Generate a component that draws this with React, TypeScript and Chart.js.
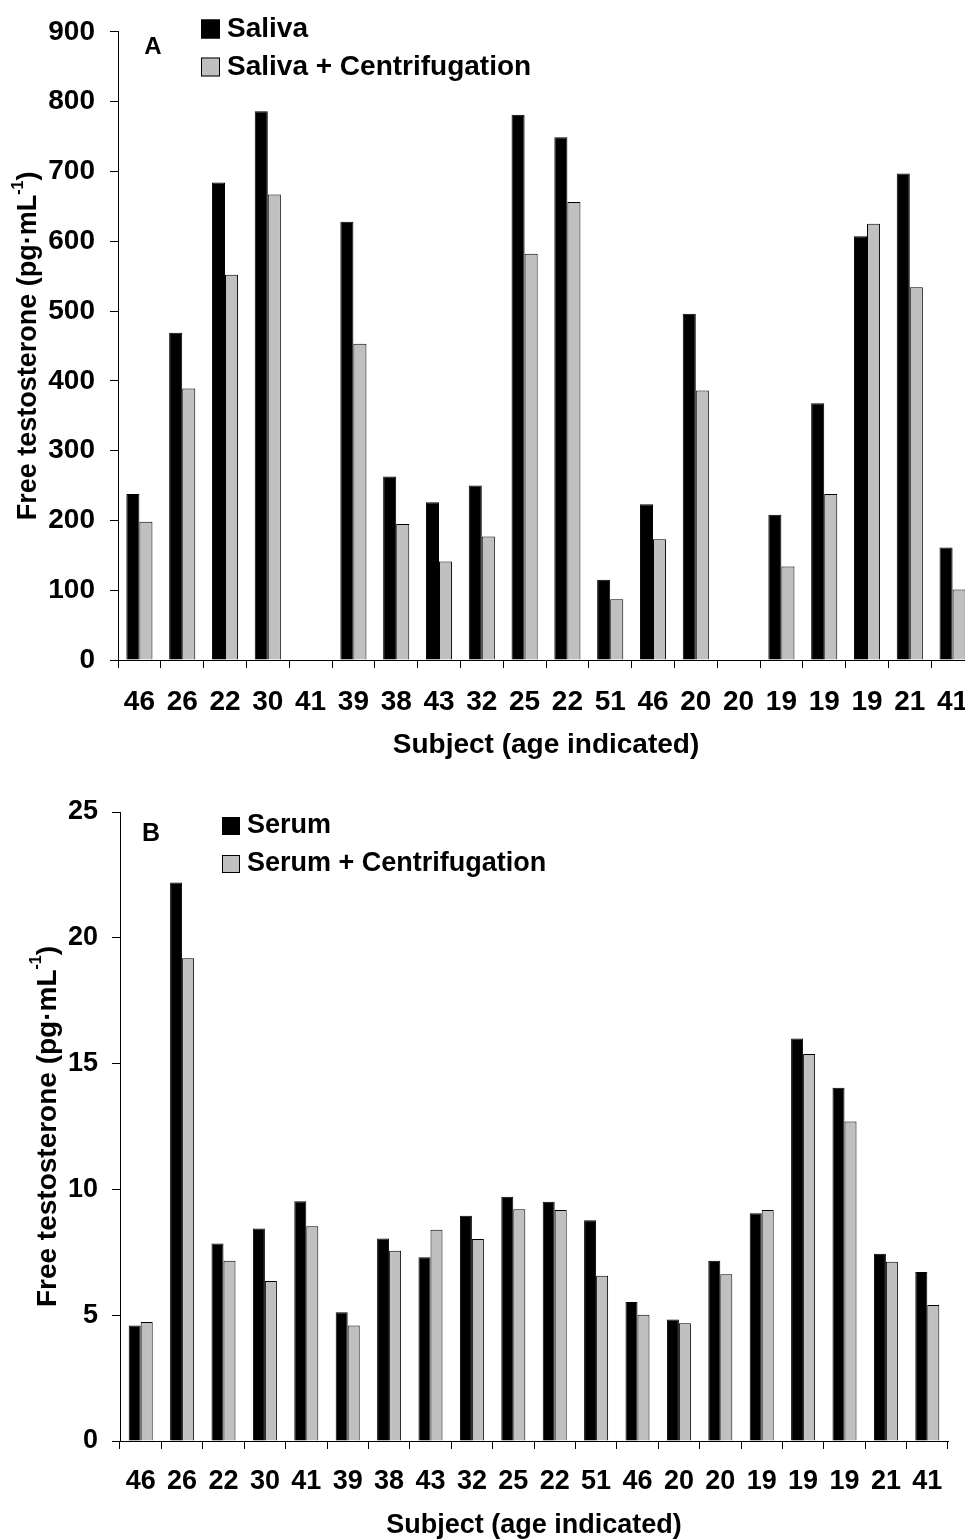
import React, { useEffect, useRef } from "react";
import { Chart, registerables } from "chart.js";

Chart.register(...registerables);

const AGES = ["46", "26", "22", "30", "41", "39", "38", "43", "32", "25", "22", "51", "46", "20", "20", "19", "19", "19", "21", "41"];

const SALIVA = [238, 469, 684, 786, null, 628, 263, 226, 250, 781, 749, 115, 223, 496, null, 208, 368, 607, 697, 161];
const SALIVA_CENT = [198, 389, 552, 667, null, 453, 195, 141, 177, 582, 656, 87, 173, 386, null, 134, 238, 625, 534, 101];

const SERUM = [4.59, 22.2, 7.85, 8.45, 9.53, 5.12, 8.05, 7.3, 8.95, 9.71, 9.51, 8.77, 5.52, 4.83, 7.16, 9.05, 16.0, 14.04, 7.44, 6.72];
const SERUM_CENT = [4.73, 19.19, 7.16, 6.36, 8.54, 4.59, 7.56, 8.4, 8.03, 9.21, 9.18, 6.57, 5.02, 4.68, 6.63, 9.18, 15.38, 12.7, 7.12, 5.41];

const X_TITLE = "Subject (age indicated)";
const Y_TITLE_MAIN = "Free testosterone (pg·mL";
const Y_TITLE_SUP = "-1";
const Y_TITLE_END = ")";

const FONT = "'Liberation Sans', Arial, Helvetica, sans-serif";
const BLACK = "#000000";
const GREY = "#c0c0c0";

type Decor = {
  letter: string;
  letterX: number;
  letterY: number;
  letterSize: number;
  legX: number;
  legY: number[];
  legBox: number;
  legTextX: number;
  legSize: number;
  titleX: number;
  titleSize: number;
  supSize: number;
};

function decorPlugin(d: Decor) {
  return {
    id: "decor",
    afterDraw(chart: any) {
      const ctx = chart.ctx as CanvasRenderingContext2D;
      const area = chart.chartArea;
      ctx.save();
      // panel letter
      ctx.fillStyle = BLACK;
      ctx.font = `bold ${d.letterSize}px ${FONT}`;
      ctx.textAlign = "center";
      ctx.textBaseline = "middle";
      ctx.fillText(d.letter, d.letterX, d.letterY);
      // legend
      chart.data.datasets.forEach((ds: any, i: number) => {
        const cy = d.legY[i];
        ctx.fillStyle = ds.backgroundColor;
        ctx.fillRect(d.legX, cy - d.legBox / 2, d.legBox, d.legBox);
        ctx.strokeStyle = BLACK;
        ctx.lineWidth = 1;
        ctx.strokeRect(d.legX + 0.5, cy - d.legBox / 2 + 0.5, d.legBox - 1, d.legBox - 1);
        ctx.fillStyle = BLACK;
        ctx.font = `bold ${d.legSize}px ${FONT}`;
        ctx.textAlign = "left";
        ctx.textBaseline = "middle";
        ctx.fillText(ds.label, d.legTextX, cy);
      });
      // rotated y title with superscript
      const yc = (area.top + area.bottom) / 2;
      ctx.translate(d.titleX, yc);
      ctx.rotate(-Math.PI / 2);
      ctx.textAlign = "left";
      ctx.textBaseline = "middle";
      const mainFont = `bold ${d.titleSize}px ${FONT}`;
      const supFont = `bold ${d.supSize}px ${FONT}`;
      ctx.font = mainFont;
      const w1 = ctx.measureText(Y_TITLE_MAIN).width;
      const w3 = ctx.measureText(Y_TITLE_END).width;
      ctx.font = supFont;
      const w2 = ctx.measureText(Y_TITLE_SUP).width;
      const start = -(w1 + w2 + w3) / 2;
      ctx.fillStyle = BLACK;
      ctx.font = mainFont;
      ctx.fillText(Y_TITLE_MAIN, start, 0);
      ctx.font = supFont;
      ctx.fillText(Y_TITLE_SUP, start + w1, -d.titleSize * 0.4);
      ctx.font = mainFont;
      ctx.fillText(Y_TITLE_END, start + w1 + w2, 0);
      ctx.restore();
    },
  };
}

function makeConfig(p: {
  labels: string[];
  names: string[];
  a: (number | null)[];
  b: (number | null)[];
  max: number;
  step: number;
  fontSize: number;
  catPct: number;
  padTop: number;
  padRight: number;
  yWidth: number;
  xHeight: number;
  xTickPad: number;
  yTickPad: number;
  titlePadBottom: number;
  decor: Decor;
}): any {
  const font = { family: FONT, size: p.fontSize, weight: "bold" as const };
  const common = { borderColor: BLACK, borderWidth: 1, barPercentage: 1, categoryPercentage: p.catPct };
  return {
    type: "bar",
    data: {
      labels: p.labels,
      datasets: [
        { label: p.names[0], data: p.a, backgroundColor: BLACK, ...common },
        { label: p.names[1], data: p.b, backgroundColor: GREY, ...common },
      ],
    },
    options: {
      responsive: false,
      animation: false,
      devicePixelRatio: 1,
      layout: { padding: { left: 0, right: p.padRight, top: p.padTop, bottom: 0 } },
      plugins: { legend: { display: false }, tooltip: { enabled: false } },
      scales: {
        x: {
          grid: { display: true, drawOnChartArea: false, drawTicks: true, tickLength: 8, color: BLACK, lineWidth: 1, offset: true },
          border: { display: true, color: BLACK, width: 1 },
          ticks: { color: BLACK, font, padding: p.xTickPad, maxRotation: 0, minRotation: 0, autoSkip: false },
          title: { display: true, text: X_TITLE, color: BLACK, font, padding: { top: 0, bottom: p.titlePadBottom } },
          afterFit: (s: any) => {
            s.height = p.xHeight;
          },
        },
        y: {
          min: 0,
          max: p.max,
          grid: { display: true, drawOnChartArea: false, drawTicks: true, tickLength: 8, color: BLACK, lineWidth: 1 },
          border: { display: true, color: BLACK, width: 1 },
          ticks: { color: BLACK, font, stepSize: p.step, padding: p.yTickPad },
          afterFit: (s: any) => {
            s.width = p.yWidth;
          },
        },
      },
    },
    plugins: [decorPlugin(p.decor)],
  };
}

const TOP_W = 990;
const TOP_H = 765;
const BOT_TOP = 770;
const BOT_W = 965;
const BOT_H = 800;

export default function App() {
  const topRef = useRef<HTMLCanvasElement>(null);
  const botRef = useRef<HTMLCanvasElement>(null);

  useEffect(() => {
    const c1 = new Chart(
      topRef.current as HTMLCanvasElement,
      makeConfig({
        labels: AGES,
        names: ["Saliva", "Saliva + Centrifugation"],
        a: SALIVA,
        b: SALIVA_CENT,
        max: 900,
        step: 100,
        fontSize: 28,
        catPct: 0.61,
        padTop: 26,
        padRight: 16,
        yWidth: 118,
        xHeight: 105,
        xTickPad: 17,
        yTickPad: 15,
        titlePadBottom: 3,
        decor: {
          letter: "A",
          letterX: 153,
          letterY: 47,
          letterSize: 24,
          legX: 201,
          legY: [29, 67],
          legBox: 19,
          legTextX: 227,
          legSize: 28,
          titleX: 29,
          titleSize: 27,
          supSize: 16,
        },
      })
    );
    const c2 = new Chart(
      botRef.current as HTMLCanvasElement,
      makeConfig({
        labels: AGES,
        names: ["Serum", "Serum + Centrifugation"],
        a: SERUM,
        b: SERUM_CENT,
        max: 25,
        step: 5,
        fontSize: 27,
        catPct: 0.58,
        padTop: 42,
        padRight: 17,
        yWidth: 120,
        xHeight: 129,
        xTickPad: 16,
        yTickPad: 14,
        titlePadBottom: 28,
        decor: {
          letter: "B",
          letterX: 151,
          letterY: 834 - BOT_TOP,
          letterSize: 25,
          legX: 222,
          legY: [826 - BOT_TOP, 864 - BOT_TOP],
          legBox: 18,
          legTextX: 247,
          legSize: 27,
          titleX: 48,
          titleSize: 28,
          supSize: 16,
        },
      })
    );
    return () => {
      c1.destroy();
      c2.destroy();
    };
  }, []);

  return (
    <div
      style={{
        position: "absolute",
        left: 0,
        top: 0,
        width: 965,
        height: 1539,
        overflow: "hidden",
        background: "#ffffff",
      }}
    >
      <canvas
        ref={topRef}
        width={TOP_W}
        height={TOP_H}
        style={{ position: "absolute", left: 0, top: 0, display: "block" }}
      />
      <canvas
        ref={botRef}
        width={BOT_W}
        height={BOT_H}
        style={{ position: "absolute", left: 0, top: BOT_TOP, display: "block" }}
      />
    </div>
  );
}
